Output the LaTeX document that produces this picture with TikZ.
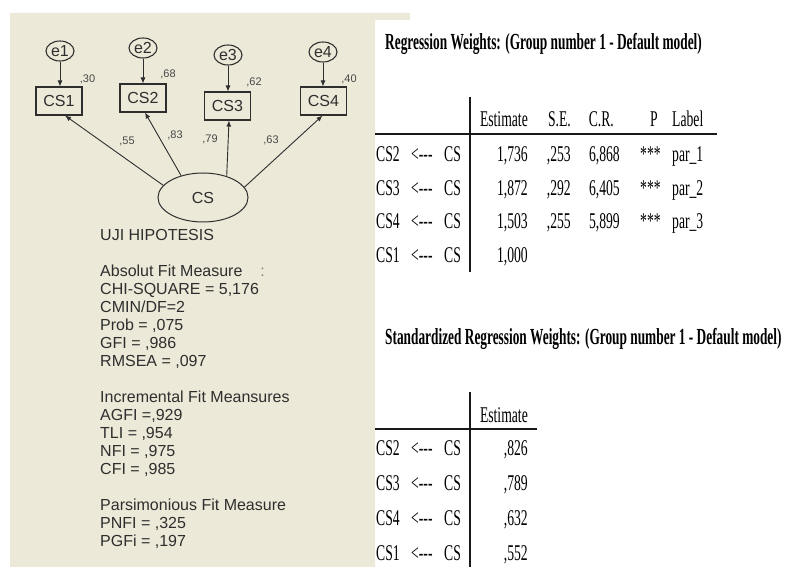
\documentclass[tikz,border=0pt]{standalone}
\usepackage{fontspec}
\setmainfont{Liberation Sans}
\newfontfamily\tabfont[FakeStretch=0.607]{Liberation Serif}
\newfontfamily\ttlfont[FakeStretch=0.58]{Liberation Serif Bold}
\usetikzlibrary{shapes.geometric,arrows.meta}
\definecolor{panel}{HTML}{ECE9D8}
\definecolor{ink}{HTML}{2E2E2E}
\definecolor{soft}{HTML}{484848}
\begin{document}
\begin{tikzpicture}[x=1pt,y=-1pt,
  sem/.style={font=\fontsize{16}{18}\selectfont, text=ink},
  obs/.style={draw=ink, line width=1.1pt, rectangle, minimum width=46pt, minimum height=28pt, inner sep=0pt, sem},
  err/.style={draw=ink, line width=1.1pt, ellipse, minimum width=28pt, minimum height=20pt, inner sep=0pt, sem},
  lat/.style={draw=ink, line width=1pt, ellipse, minimum width=90pt, minimum height=49pt, inner sep=0pt, sem},
  coef/.style={font=\fontsize{11}{12}\selectfont, text=soft, inner sep=0pt},
  arr/.style={-{Latex[length=6pt,width=5pt]}, draw=ink, line width=0.9pt},
  fitline/.style={font=\fontsize{16}{18}\selectfont, text=ink, anchor=base west, inner sep=0pt},
  tab/.style={font=\tabfont\fontsize{22.5}{25}\selectfont, text=black, inner sep=0pt, anchor=base west},
  tabr/.style={tab, anchor=base east},
  ttl/.style={font=\ttlfont\fontsize{23}{26}\selectfont, text=black, inner sep=0pt, anchor=base west},
  rule/.style={draw=black!90, line width=1.3pt}
]
\useasboundingbox (0,0) rectangle (788,567);
\fill[white] (0,0) rectangle (788,567);
\fill[panel] (10,13) -- (410,13) -- (410,20) -- (375,20) -- (375,567) -- (10,567) -- cycle;

% --- path diagram ---
\node[err] (e1) at (60,51) {e1};
\node[err] (e2) at (143,48) {e2};
\node[err] (e3) at (228,55) {e3};
\node[err] (e4) at (323,52) {e4};
\node[obs] (cs1) at (59,101) {CS1};
\node[obs] (cs2) at (143,98) {CS2};
\node[obs] (cs3) at (227.5,106) {CS3};
\node[obs] (cs4) at (323.5,101) {CS4};
\node[lat] (cs) at (203,197.5) {CS};

\draw[arr] (e1.south) -- (e1.south |- cs1.north);
\draw[arr] (e2.south) -- (e2.south |- cs2.north);
\draw[arr] (e3.south) -- (e3.south |- cs3.north);
\draw[arr] (e4.south) -- (e4.south |- cs4.north);

\draw[arr] (cs.163) -- ([xshift=6pt]cs1.south);
\draw[arr] (cs.135) -- ([xshift=2pt]cs2.south);
\draw[arr] (cs.42) -- ([xshift=1.5pt]cs3.south);
\draw[arr] (cs.14) -- ([xshift=-1pt]cs4.south);

\node[coef] (v1) at (87.5,79) {,30};
\node[coef] (v2) at (168,74) {,68};
\node[coef] (v3) at (254,82) {,62};
\node[coef] (v4) at (349,79) {,40};
\node[coef] (w1) at (127,141) {,55};
\node[coef] (w2) at (175,135) {,83};
\node[coef] (w3) at (210,139) {,79};
\node[coef] (w4) at (271,140) {,63};

% --- fit measures ---
\node[fitline] (f0) at (100,240.7) {UJI HIPOTESIS};
\node[fitline] (f2) at (100,276.7) {Absolut Fit Measure\hspace{18pt}{\color{gray}:}};
\node[fitline] (f3) at (100,294.7) {CHI-SQUARE = 5,176};
\node[fitline] (f4) at (100,312.7) {CMIN/DF=2};
\node[fitline] (f5) at (100,330.7) {Prob = ,075};
\node[fitline] (f6) at (100,348.7) {GFI = ,986};
\node[fitline] (f7) at (100,366.7) {RMSEA = ,097};
\node[fitline] (f9) at (100,402.7) {Incremental Fit Meansures};
\node[fitline] (f10) at (100,420.7) {AGFI =,929};
\node[fitline] (f11) at (100,438.7) {TLI = ,954};
\node[fitline] (f12) at (100,456.7) {NFI = ,975};
\node[fitline] (f13) at (100,474.7) {CFI = ,985};
\node[fitline] (f15) at (100,510.7) {Parsimonious Fit Measure};
\node[fitline] (f16) at (100,528.7) {PNFI = ,325};
\node[fitline] (f17) at (100,546.7) {PGFi = ,197};

% --- regression weights table ---
\node[ttl] (t1) at (385,50) {Regression Weights: (Group number 1 - Default model)};
\draw[rule] (375,134) -- (717,134);
\draw[rule, line width=1.1pt] (470,97) -- (470,272);
\node[tabr] (h1) at (528,127) {Estimate};
\node[tabr] (h2) at (571,127) {S.E.};
\node[tabr] (h3) at (614,127) {C.R.};
\node[tabr] (h4) at (658,127) {P};
\node[tab] (h5) at (672,127) {Label};

\foreach \y/\a/\est/\se/\cr/\p/\lab [count=\i] in
  {162/CS2/{1,736}/{,253}/{6,868}/***/par\_1,
   196/CS3/{1,872}/{,292}/{6,405}/***/par\_2,
   229/CS4/{1,503}/{,255}/{5,899}/***/par\_3,
   262/CS1/{1,000}/{}/{}/{}/{}}{
  \node[tab] (ra\i) at (376,\y) {\a};
  \node[tab] (rb\i) at (411,\y) {<\mbox{-}\mbox{-}\mbox{-}};
  \node[tab] (rc\i) at (444,\y) {CS};
  \node[tabr] (rd\i) at (528,\y) {\est};
  \node[tabr] (re\i) at (571,\y) {\se};
  \node[tabr] (rf\i) at (620,\y) {\cr};
  \node[tab] (rg\i) at (640,\y) {\p};
  \node[tab] (rh\i) at (672,\y) {\lab};
}

% --- standardized table ---
\node[ttl] (t2) at (385,344) {Standardized Regression Weights: (Group number 1 - Default model)};
\draw[rule] (375,429) -- (537,429);
\draw[rule, line width=1.1pt] (470,392) -- (470,567);
\node[tabr] (sh) at (528,422) {Estimate};
\foreach \y/\a/\est [count=\i] in
  {455/CS2/{,826}, 490/CS3/{,789}, 525/CS4/{,632}, 560/CS1/{,552}}{
  \node[tab] (sa\i) at (376,\y) {\a};
  \node[tab] (sb\i) at (411,\y) {<\mbox{-}\mbox{-}\mbox{-}};
  \node[tab] (sc\i) at (444,\y) {CS};
  \node[tabr] (sd\i) at (528,\y) {\est};
}
\end{tikzpicture}
\end{document}
